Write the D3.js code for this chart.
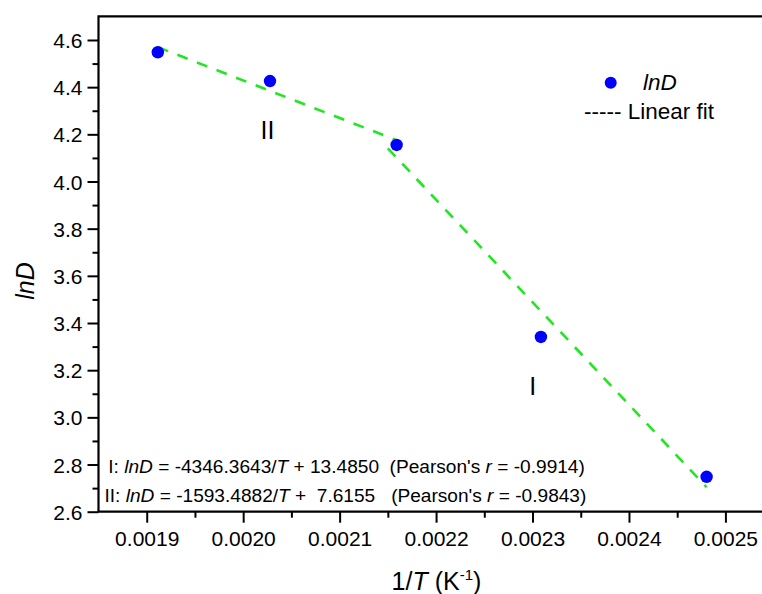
<!DOCTYPE html>
<html>
<head>
<meta charset="utf-8">
<script src="https://cdn.jsdelivr.net/npm/d3@7/dist/d3.min.js"></script>
<style>
  html, body { margin: 0; padding: 0; background: #fff; }
  svg { display: block; font-family: "Liberation Sans", Arial, sans-serif; }
  text { white-space: pre; }
</style>
</head>
<body>
<svg id="chart" width="762" height="594" xml:space="preserve"></svg>
<script>
// ---- data ----
const invT = [0.0019115, 0.0020278, 0.0021591, 0.0023087, 0.0024805];
const lnD  = [4.548, 4.426, 4.155, 3.341, 2.748];
// fit I: lnD = -4346.3643 x + 13.4850 (low-T segment), fit II: lnD = -1593.4882 x + 7.6155
const fitI  = { slope: -4346.3643, intercept: 13.4850, xFrom: 0.00215, xTo: 0.0024805 };
const fitII = { slope: -1593.4882, intercept: 7.6155, xFrom: 0.0019115, xTo: 0.0021591 };
const xTicks = [0.0019, 0.0020, 0.0021, 0.0022, 0.0023, 0.0024, 0.0025];
const xMinor = [0.00195, 0.00205, 0.00215, 0.00225, 0.00235, 0.00245];
const yTicks = [2.6, 2.8, 3.0, 3.2, 3.4, 3.6, 3.8, 4.0, 4.2, 4.4, 4.6];
const yMinor = [2.7, 2.9, 3.1, 3.3, 3.5, 3.7, 3.9, 4.1, 4.3, 4.5];

const svg = d3.select("#chart");
const L = 98.5, R = 764, T = 16.4, B = 511.7;
const x = d3.scaleLinear().domain([0.00185, 0.00254]).range([L, R]);
const y = d3.scaleLinear().domain([2.6, 4.7]).range([B, T]);

// axes
const gx = svg.append("g").attr("transform", `translate(0,${B})`)
  .call(d3.axisBottom(x).tickValues(xTicks).tickFormat(d3.format(".4f")).tickSize(11).tickPadding(8));
const gxm = svg.append("g").attr("transform", `translate(0,${B})`)
  .call(d3.axisBottom(x).tickValues(xMinor).tickFormat("").tickSize(6));
const gy = svg.append("g").attr("transform", `translate(${L},0)`)
  .call(d3.axisLeft(y).tickValues(yTicks).tickFormat(d3.format(".1f")).tickSize(11).tickPadding(5));
const gym = svg.append("g").attr("transform", `translate(${L},0)`)
  .call(d3.axisLeft(y).tickValues(yMinor).tickFormat("").tickSize(6));
[gx, gxm, gy, gym].forEach(g => {
  g.select(".domain").remove();
  g.selectAll(".tick line").attr("stroke", "#000").attr("stroke-width", 2);
  g.selectAll(".tick text").attr("fill", "#000").attr("font-size", 21)
    .attr("font-family", "Liberation Sans, Arial, sans-serif");
});
gy.selectAll(".tick text").attr("dy", "0.36em");
gx.selectAll(".tick text").attr("dy", "0.71em");

// frame (left, top, bottom)
svg.append("path")
  .attr("d", `M${R},${T}H${L}V${B}H${R}`)
  .attr("fill", "none").attr("stroke", "#000").attr("stroke-width", 2.2);

// fit lines
const line = d3.line().x(d => x(d[0])).y(d => y(d[1]));
[fitII, fitI].forEach(f => {
  const pts = [[f.xFrom, f.slope * f.xFrom + f.intercept], [f.xTo, f.slope * f.xTo + f.intercept]];
  svg.append("path").attr("d", line(pts))
    .attr("fill", "none").attr("stroke", "#22e622").attr("stroke-width", 2.6)
    .attr("stroke-dasharray", "11,10");
});

// points
svg.selectAll("circle.pt").data(invT.map((v, i) => [v, lnD[i]])).enter()
  .append("circle").attr("class", "pt")
  .attr("cx", d => x(d[0])).attr("cy", d => y(d[1])).attr("r", 6.2)
  .attr("fill", "#0000ff");

// segment labels
svg.append("text").attr("x", 267.5).attr("y", 139).attr("text-anchor", "middle")
  .attr("font-size", 25).text("II");
svg.append("text").attr("x", 532.7).attr("y", 395).attr("text-anchor", "middle")
  .attr("font-size", 25).text("I");

// legend
svg.append("circle").attr("cx", 610.7).attr("cy", 82.7).attr("r", 6).attr("fill", "#0000ff");
svg.append("text").attr("x", 643).attr("y", 89.5).attr("font-size", 22.5)
  .attr("font-style", "italic").text("lnD");
svg.append("text").attr("x", 584).attr("y", 118.5).attr("font-size", 22.5).text("----- Linear fit");

// equations
function eq(xp, yp, parts) {
  const t = svg.append("text").attr("x", xp).attr("y", yp).attr("font-size", 19.1);
  parts.forEach(p => t.append("tspan").attr("font-style", p[1] ? "italic" : "normal").text(p[0]));
}
eq(108.3, 473.3, [["I: ", 0], ["lnD", 1], [" = -4346.3643/", 0], ["T", 1], [" + 13.4850  (Pearson's ", 0], ["r", 1], [" = -0.9914)", 0]]);
eq(104.5, 501.7, [["II: ", 0], ["lnD", 1], [" = -1593.4882/", 0], ["T", 1], [" +  7.6155   (Pearson's ", 0], ["r", 1], [" = -0.9843)", 0]]);

// axis titles
const xt = svg.append("text").attr("x", 436.5).attr("y", 590).attr("text-anchor", "middle").attr("font-size", 25);
xt.append("tspan").text("1/");
xt.append("tspan").attr("font-style", "italic").text("T");
xt.append("tspan").text(" (K");
xt.append("tspan").attr("font-size", 15).attr("dy", -10).text("-1");
xt.append("tspan").attr("dy", 10).text(")");

svg.append("text").attr("transform", "translate(34,281) rotate(-90)")
  .attr("text-anchor", "middle").attr("font-size", 25).attr("font-style", "italic").text("lnD");
</script>
</body>
</html>
